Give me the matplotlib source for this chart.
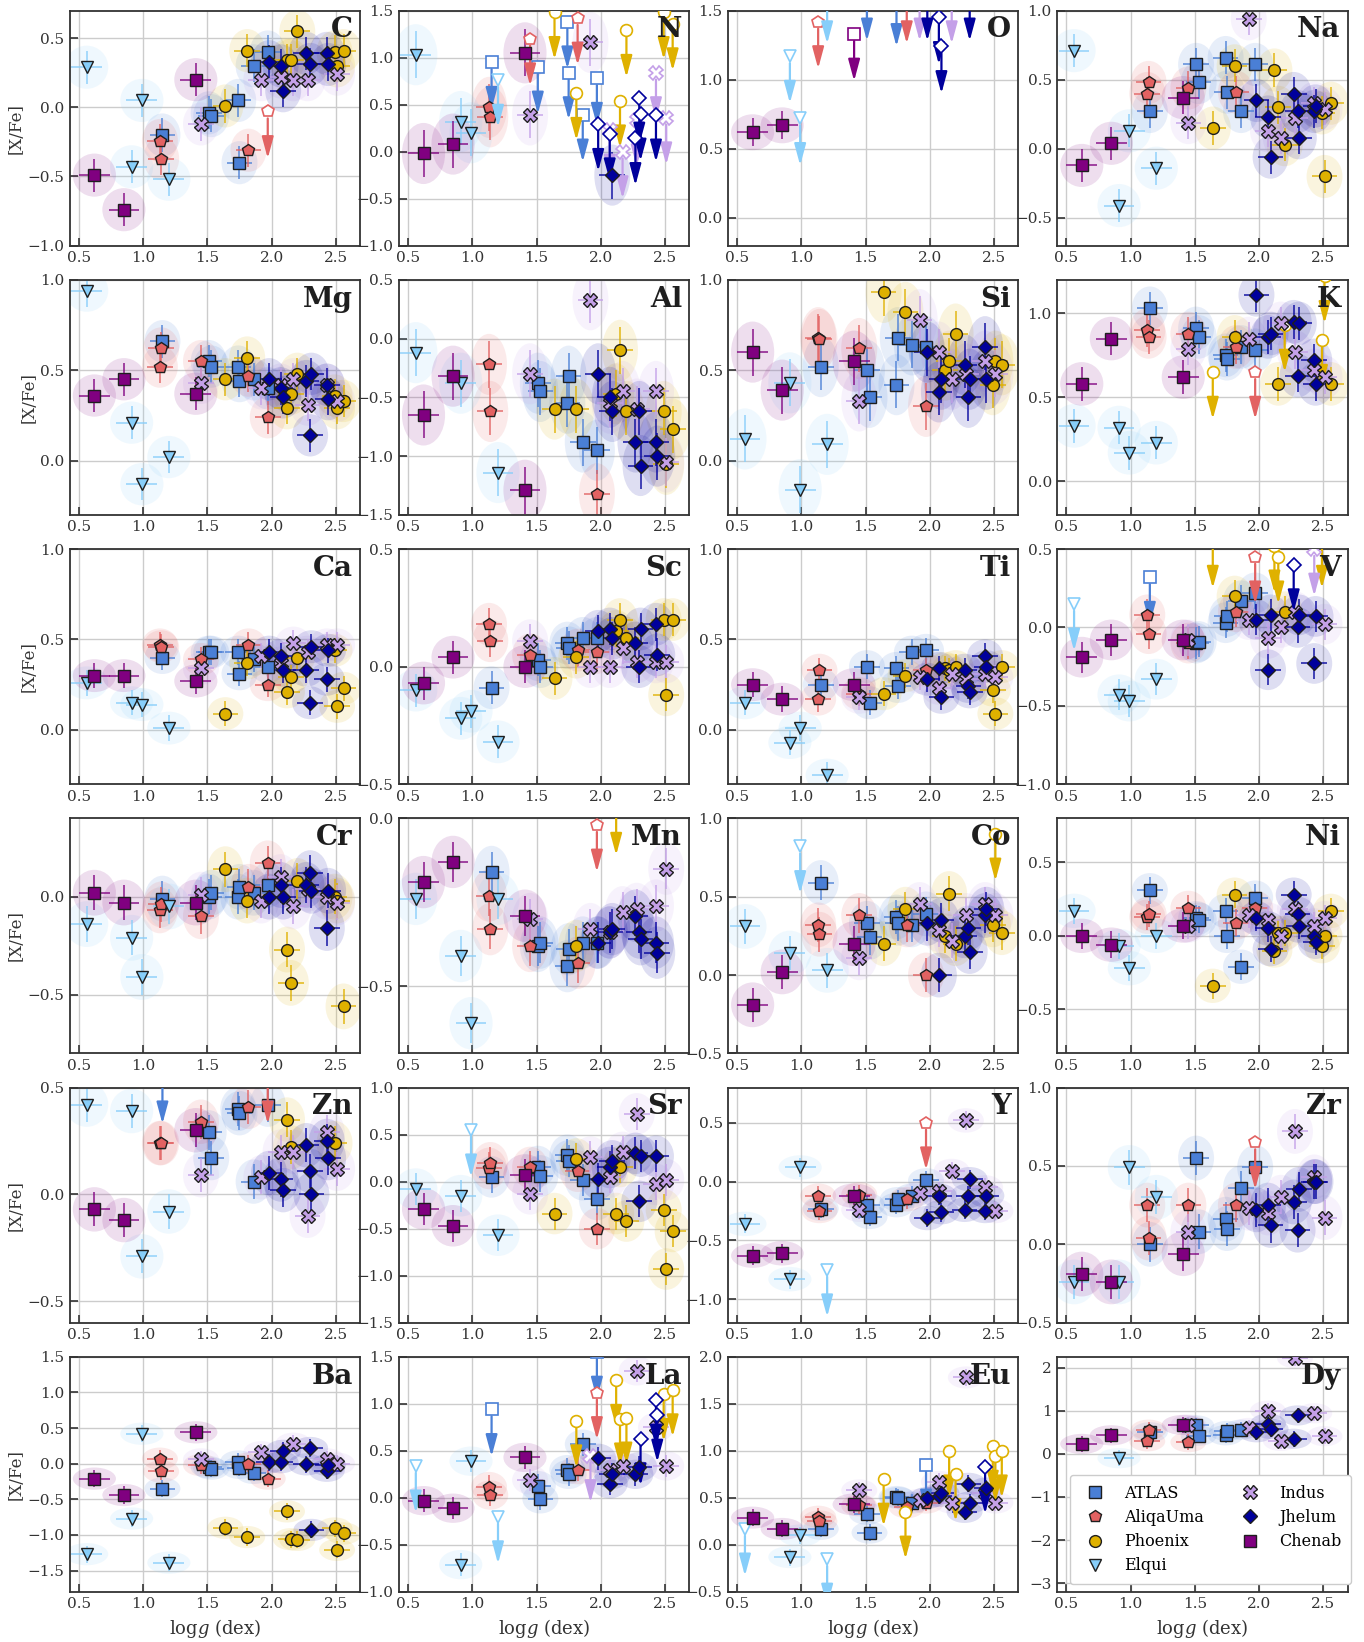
import matplotlib
matplotlib.use("Agg")
import matplotlib.pyplot as plt
from matplotlib.patches import Ellipse, FancyArrowPatch
from matplotlib.lines import Line2D
from matplotlib.ticker import MultipleLocator

# ---- stars: surface gravity of each member, per stream ----
ATLAS_LOGG = [1.15, 1.51, 1.53, 1.74, 1.75, 1.86, 1.97]
ALIQA_LOGG = [1.13, 1.14, 1.45, 1.82, 1.97]
PHOENIX_LOGG = [1.64, 1.81, 2.12, 2.15, 2.20, 2.49, 2.51, 2.56]
ELQUI_LOGG = [0.56, 0.91, 0.99, 1.20]
INDUS_LOGG = [1.45, 1.92, 2.07, 2.17, 2.28, 2.43, 2.51]
JHELUM_LOGG = [1.98, 2.07, 2.09, 2.27, 2.30, 2.31, 2.43, 2.44]
CHENAB_LOGG = [0.62, 0.85, 1.41]

STREAMS = ["ATLAS", "AliqaUma", "Phoenix", "Elqui", "Indus", "Jhelum", "Chenab"]
LOGG = dict(zip(STREAMS, [ATLAS_LOGG, ALIQA_LOGG, PHOENIX_LOGG, ELQUI_LOGG,
                          INDUS_LOGG, JHELUM_LOGG, CHENAB_LOGG]))

# ---- [X/Fe] per element (None = no measurement); *_UL = indices of upper limits ----
C = {"ATLAS": [-0.20, -0.04, -0.06, 0.05, -0.40, 0.30, 0.40],
     "AliqaUma": [-0.24, -0.37, None, -0.31, -0.03],
     "Phoenix": [0.01, 0.41, 0.34, 0.34, 0.55, 0.40, 0.30, 0.41],
     "Elqui": [0.29, -0.43, 0.05, -0.52],
     "Indus": [-0.12, 0.20, 0.22, 0.20, 0.20, None, 0.24],
     "Jhelum": [0.33, 0.30, 0.12, 0.39, 0.31, None, 0.39, 0.31],
     "Chenab": [-0.49, -0.74, 0.20]}
C_UL = {"AliqaUma": [4]}

N = {"ATLAS": [0.95, 0.90, None, 1.38, 0.84, 0.39, 0.78],
     "AliqaUma": [0.47, 0.37, 1.20, 1.42, None],
     "Phoenix": [1.48, 0.62, None, 0.54, 1.29, 1.48, None, 1.36],
     "Elqui": [1.03, 0.32, 0.20, 0.76],
     "Indus": [0.39, 1.16, 0.23, 0.00, 0.34, 0.84, 0.36],
     "Jhelum": [0.29, 0.19, -0.25, 0.14, 0.57, 0.40, 0.39, None],
     "Chenab": [-0.02, 0.08, 1.05]}
N_UL = {"ATLAS": [0, 1, 3, 4, 5, 6], "AliqaUma": [2, 3], "Phoenix": [0, 1, 3, 4, 5, 7],
        "Elqui": [3], "Indus": [2, 3, 4, 5, 6], "Jhelum": [0, 1, 3, 4, 5, 6]}

O = {"ATLAS": [None, 1.62, None, 1.58, None, None, None],
     "AliqaUma": [1.42, None, None, 1.60, None],
     "Elqui": [None, 1.17, 0.72, 1.60],
     "Indus": [None, 1.62, None, 1.60, None, None, None],
     "Jhelum": [1.62, 1.45, 1.24, None, None, 1.62, None, None],
     "Chenab": [0.62, 0.67, 1.33]}
O_UL = {"ATLAS": [1, 3], "AliqaUma": [0, 3], "Elqui": [1, 2, 3], "Indus": [1, 3],
        "Jhelum": [0, 1, 2, 5], "Chenab": [2]}

NA = {"ATLAS": [0.27, 0.61, 0.48, 0.66, 0.41, 0.27, 0.61],
      "AliqaUma": [0.40, 0.48, 0.44, 0.41, None],
      "Phoenix": [0.15, 0.60, 0.57, 0.30, 0.03, 0.26, -0.20, 0.33],
      "Elqui": [0.71, -0.41, 0.13, -0.14],
      "Indus": [0.19, 0.94, 0.13, 0.08, 0.22, 0.33, 0.29],
      "Jhelum": [0.35, 0.23, -0.06, 0.40, 0.27, 0.08, 0.27, 0.31],
      "Chenab": [-0.12, 0.04, 0.37]}

MG = {"ATLAS": [0.66, 0.55, 0.52, 0.52, 0.44, 0.45, 0.40],
      "AliqaUma": [0.52, 0.62, 0.55, 0.47, 0.24],
      "Phoenix": [0.45, 0.57, 0.29, 0.37, 0.48, 0.36, 0.29, 0.33],
      "Elqui": [0.94, 0.21, -0.13, 0.02],
      "Indus": [0.43, 0.40, 0.42, 0.45, 0.31, 0.42, 0.33],
      "Jhelum": [0.45, 0.40, 0.35, 0.44, 0.14, 0.48, 0.42, 0.34],
      "Chenab": [0.36, 0.45, 0.37]}

AL = {"ATLAS": [None, -0.38, -0.45, -0.55, -0.32, -0.88, -0.95],
      "AliqaUma": [-0.22, -0.62, None, None, -1.32],
      "Phoenix": [-0.60, -0.60, -0.47, -0.10, -0.62, -0.62, -1.07, -0.77],
      "Elqui": [-0.12, -0.38, None, -1.14],
      "Indus": [-0.30, 0.33, -0.55, -0.45, -0.60, -0.45, -1.05],
      "Jhelum": [-0.30, -0.50, -0.62, -0.88, -0.62, -1.08, -0.88, -1.00],
      "Chenab": [-0.65, -0.32, -1.29]}

SI = {"ATLAS": [0.52, 0.50, 0.35, 0.42, 0.68, 0.64, 0.63],
      "AliqaUma": [0.68, 0.67, 0.62, None, 0.30],
      "Phoenix": [0.93, 0.82, 0.50, 0.55, 0.70, 0.42, 0.55, 0.53],
      "Elqui": [0.12, 0.43, -0.16, 0.09],
      "Indus": [0.33, 0.78, 0.60, 0.45, 0.48, 0.55, 0.48],
      "Jhelum": [0.60, 0.38, 0.45, 0.53, 0.35, 0.45, 0.63, 0.45],
      "Chenab": [0.60, 0.39, 0.55]}

K = {"ATLAS": [1.03, 0.91, 0.86, 0.75, 0.73, 0.80, 0.78],
     "AliqaUma": [0.90, 0.86, 0.88, 0.80, 0.65],
     "Phoenix": [0.65, 0.86, None, 0.58, 0.93, 0.84, 1.22, 0.58],
     "Elqui": [0.33, 0.32, 0.17, 0.23],
     "Indus": [0.79, 0.85, None, 0.94, 0.77, 0.66, 0.62],
     "Jhelum": [1.11, 0.86, 0.88, 0.95, 0.63, 0.94, 0.72, 0.58],
     "Chenab": [0.58, 0.85, 0.62]}
K_UL = {"AliqaUma": [4], "Phoenix": [0, 4, 5, 6]}

CA = {"ATLAS": [0.40, 0.43, 0.43, 0.43, 0.31, 0.39, 0.35],
      "AliqaUma": [0.47, 0.46, 0.39, 0.47, 0.25],
      "Phoenix": [0.09, 0.37, 0.21, 0.29, 0.40, 0.44, 0.13, 0.23],
      "Elqui": [0.26, 0.15, 0.14, 0.01],
      "Indus": [0.34, 0.41, 0.37, 0.48, 0.43, 0.47, 0.47],
      "Jhelum": [0.43, 0.41, 0.33, 0.33, 0.15, 0.46, 0.28, 0.44],
      "Chenab": [0.30, 0.30, 0.27]}

SC = {"ATLAS": [-0.09, 0.03, 0.00, 0.10, 0.08, 0.12, 0.12],
      "AliqaUma": [0.18, 0.11, 0.05, 0.07, 0.06],
      "Phoenix": [-0.05, 0.04, 0.15, 0.20, 0.12, 0.20, -0.12, 0.20],
      "Elqui": [-0.10, -0.22, -0.19, -0.32],
      "Indus": [0.11, 0.00, 0.00, 0.08, 0.02, 0.02, 0.02],
      "Jhelum": [0.15, 0.16, 0.12, 0.10, 0.00, 0.16, 0.18, 0.05],
      "Chenab": [-0.07, 0.04, 0.00]}

TI = {"ATLAS": [0.25, 0.35, 0.15, 0.34, 0.24, 0.43, 0.44],
      "AliqaUma": [0.17, 0.33, 0.20, None, 0.33],
      "Phoenix": [0.20, 0.30, 0.34, 0.33, 0.35, 0.22, 0.09, 0.35],
      "Elqui": [0.15, -0.07, 0.01, -0.25],
      "Indus": [0.18, 0.29, 0.23, 0.31, 0.28, 0.31, 0.29],
      "Jhelum": [0.28, 0.34, 0.18, 0.33, 0.24, 0.21, 0.41, 0.35],
      "Chenab": [0.25, 0.17, 0.25]}

V = {"ATLAS": [0.32, -0.10, -0.09, 0.03, 0.07, 0.17, 0.22],
     "AliqaUma": [0.08, -0.04, -0.10, 0.10, 0.45],
     "Phoenix": [0.55, 0.20, 0.52, 0.45, 0.10, 0.55, None, None],
     "Elqui": [0.15, -0.43, -0.47, -0.33],
     "Indus": [-0.08, 0.05, -0.07, 0.00, 0.10, 0.50, 0.02],
     "Jhelum": [0.05, -0.27, 0.08, 0.40, 0.00, 0.08, -0.23, 0.07],
     "Chenab": [-0.19, -0.08, -0.08]}
V_UL = {"ATLAS": [0], "AliqaUma": [4], "Phoenix": [0, 2, 3, 5], "Elqui": [0],
        "Indus": [5], "Jhelum": [3]}

CR = {"ATLAS": [-0.01, 0.00, 0.02, 0.00, 0.05, 0.02, 0.06],
      "AliqaUma": [-0.07, -0.04, -0.10, 0.05, 0.17],
      "Phoenix": [0.14, -0.02, -0.27, -0.44, 0.08, 0.00, -0.02, -0.56],
      "Elqui": [-0.14, -0.21, -0.41, -0.05],
      "Indus": [0.01, -0.02, 0.10, -0.05, 0.04, 0.00, -0.03],
      "Jhelum": [0.00, 0.06, 0.00, 0.06, 0.12, 0.03, -0.16, 0.03],
      "Chenab": [0.02, -0.03, -0.03]}

MN = {"ATLAS": [-0.16, -0.38, -0.37, -0.44, -0.39, -0.37, -0.37],
      "AliqaUma": [-0.23, -0.33, -0.38, -0.43, -0.02],
      "Phoenix": [None, -0.38, 0.03, None, None, None, None, None],
      "Elqui": [-0.24, -0.41, -0.61, -0.24],
      "Indus": [-0.30, -0.33, -0.34, -0.28, -0.27, -0.26, -0.15],
      "Jhelum": [-0.37, -0.34, -0.33, -0.29, -0.34, -0.36, -0.37, -0.40],
      "Chenab": [-0.19, -0.13, -0.29]}
MN_UL = {"AliqaUma": [4], "Phoenix": [2]}

CO = {"ATLAS": [0.59, 0.33, 0.24, 0.37, 0.33, 0.32, 0.39],
      "AliqaUma": [0.32, 0.26, 0.38, 0.32, 0.00],
      "Phoenix": [0.20, 0.42, 0.25, 0.52, 0.20, 0.32, 0.90, 0.27],
      "Elqui": [0.31, 0.14, 0.82, 0.03],
      "Indus": [0.11, 0.45, 0.29, 0.22, 0.38, 0.45, 0.38],
      "Jhelum": [0.33, 0.00, 0.35, 0.25, 0.30, 0.15, 0.38, 0.42],
      "Chenab": [-0.19, 0.02, 0.20]}
CO_UL = {"Phoenix": [6], "Elqui": [2]}

NI = {"ATLAS": [0.31, 0.12, 0.11, 0.17, 0.00, -0.21, 0.26],
      "AliqaUma": [0.13, 0.15, 0.19, 0.09, 0.19],
      "Phoenix": [-0.34, 0.28, -0.10, 0.02, 0.02, -0.07, 0.00, 0.17],
      "Elqui": [0.17, -0.07, -0.22, 0.00],
      "Indus": [0.07, 0.14, 0.11, 0.00, 0.18, 0.07, 0.12],
      "Jhelum": [0.12, 0.05, -0.09, 0.28, 0.15, 0.07, 0.00, -0.04],
      "Chenab": [0.00, -0.06, 0.07]}

ZN = {"ATLAS": [0.55, 0.29, 0.17, 0.40, 0.38, 0.06, 0.42],
      "AliqaUma": [0.24, 0.24, 0.34, 0.41, 0.55],
      "Phoenix": [None, None, 0.35, 0.22, None, 0.24, None, None],
      "Elqui": [0.42, 0.39, -0.29, -0.08],
      "Indus": [0.09, 0.08, 0.20, 0.20, -0.10, 0.29, 0.12],
      "Jhelum": [0.10, 0.07, 0.02, 0.23, 0.11, 0.00, 0.25, 0.17],
      "Chenab": [-0.07, -0.12, 0.30]}
ZN_UL = {"ATLAS": [0], "AliqaUma": [4]}

SR = {"ATLAS": [0.05, 0.16, 0.06, 0.28, 0.22, 0.02, -0.19],
      "AliqaUma": [0.14, 0.20, 0.15, 0.11, -0.50],
      "Phoenix": [-0.34, 0.24, -0.34, 0.16, -0.42, -0.30, -0.93, -0.53],
      "Elqui": [-0.08, -0.15, 0.55, -0.57],
      "Indus": [-0.13, 0.26, 0.05, 0.31, 0.72, -0.03, 0.02],
      "Jhelum": [0.03, 0.15, 0.22, 0.30, -0.21, 0.27, 0.27, None],
      "Chenab": [-0.29, -0.47, 0.07]}
SR_UL = {"Elqui": [2]}

Y = {"ATLAS": [-0.23, -0.20, -0.30, -0.20, -0.15, -0.12, 0.01],
     "AliqaUma": [-0.12, -0.25, -0.11, -0.15, 0.50],
     "Elqui": [-0.36, -0.83, 0.12, -0.75],
     "Indus": [-0.24, -0.10, -0.08, 0.09, 0.52, -0.05, -0.25],
     "Jhelum": [-0.31, -0.12, -0.26, -0.24, -0.12, 0.02, -0.25, -0.12],
     "Chenab": [-0.63, -0.61, -0.12]}
Y_UL = {"AliqaUma": [4], "Elqui": [3]}

ZR = {"ATLAS": [0.00, 0.55, 0.08, 0.16, 0.10, 0.36, 0.49],
      "AliqaUma": [0.25, 0.04, 0.25, 0.25, 0.65],
      "Elqui": [-0.24, -0.24, 0.49, 0.30],
      "Indus": [0.08, 0.23, 0.20, 0.30, 0.72, 0.43, 0.17],
      "Jhelum": [0.22, 0.25, 0.12, 0.27, 0.09, 0.35, 0.40, 0.40],
      "Chenab": [-0.19, -0.24, -0.06]}
ZR_UL = {"AliqaUma": [4]}

BA = {"ATLAS": [-0.35, -0.05, -0.07, 0.03, -0.06, -0.13, None],
      "AliqaUma": [0.07, -0.11, -0.02, 0.00, -0.21],
      "Phoenix": [-0.90, -1.03, -0.67, -1.06, -1.07, -0.91, -1.21, -0.98],
      "Elqui": [-1.27, -0.77, 0.42, -1.39],
      "Indus": [0.06, 0.16, None, 0.28, 1.80, 0.06, 0.00],
      "Jhelum": [0.02, 0.02, 0.18, -0.01, 0.22, -0.93, -0.10, -0.02],
      "Chenab": [-0.21, -0.44, 0.44]}

LA = {"ATLAS": [0.94, 0.13, -0.01, 0.30, 0.25, 0.57, 1.55],
      "AliqaUma": [0.12, 0.03, None, 0.30, 1.12],
      "Phoenix": [None, 0.82, 1.25, 0.84, 0.85, 1.10, None, 1.15],
      "Elqui": [0.34, -0.71, 0.39, -0.20],
      "Indus": [0.19, 0.45, 0.30, 0.34, 1.35, 0.75, 0.34],
      "Jhelum": [0.42, 0.15, 0.25, 0.25, 0.33, 0.63, 1.04, 0.88],
      "Chenab": [-0.03, -0.11, 0.43]}
LA_UL = {"ATLAS": [0, 6], "AliqaUma": [4], "Phoenix": [1, 2, 3, 4, 5, 7],
         "Elqui": [0, 3], "Indus": [1], "Jhelum": [5, 6, 7]}

EU = {"ATLAS": [0.17, 0.33, 0.13, 0.51, 0.50, 0.45, 0.85],
      "AliqaUma": [0.30, 0.25, 0.42, 0.40, 0.45],
      "Phoenix": [0.70, 0.35, None, 1.00, 0.75, 1.05, 0.95, 1.00],
      "Elqui": [0.17, -0.13, 0.10, -0.15],
      "Indus": [0.58, 0.48, 0.67, 0.45, 1.78, 0.55, 0.45],
      "Jhelum": [0.50, 0.52, 0.55, 0.35, 0.65, 0.45, 0.83, 0.60],
      "Chenab": [0.29, 0.17, 0.43]}
EU_UL = {"ATLAS": [6], "Phoenix": [0, 1, 3, 4, 5, 6, 7], "Elqui": [0, 3], "Jhelum": [6]}

DY = {"ATLAS": [0.50, 0.66, 0.42, 0.43, 0.53, 0.56, None],
      "AliqaUma": [0.29, 0.56, 0.27, None, None],
      "Elqui": [None, -0.10, None, None],
      "Indus": [0.68, 0.60, 1.00, 0.30, 2.22, 0.94, 0.41],
      "Jhelum": [0.50, 0.70, 0.58, 0.35, 0.89, None, None, None],
      "Chenab": [0.23, 0.43, 0.67]}

# element, values, upper limits, y-limits, tick step, typical y error
PANELS = [
    ("C", C, C_UL, (-1.0, 0.7), 0.5, 0.12),
    ("N", N, N_UL, (-1.0, 1.5), 0.5, 0.25),
    ("O", O, O_UL, (-0.2, 1.5), 0.5, 0.10),
    ("Na", NA, {}, (-0.7, 1.0), 0.5, 0.12),
    ("Mg", MG, {}, (-0.3, 1.0), 0.5, 0.09),
    ("Al", AL, {}, (-1.5, 0.5), 0.5, 0.20),
    ("Si", SI, {}, (-0.3, 1.0), 0.5, 0.13),
    ("K", K, K_UL, (-0.2, 1.2), 0.5, 0.10),
    ("Ca", CA, {}, (-0.3, 1.0), 0.5, 0.07),
    ("Sc", SC, {}, (-0.5, 0.5), 0.5, 0.07),
    ("Ti", TI, {}, (-0.3, 1.0), 0.5, 0.07),
    ("V", V, V_UL, (-1.0, 0.5), 0.5, 0.10),
    ("Cr", CR, {}, (-0.8, 0.4), 0.5, 0.09),
    ("Mn", MN, MN_UL, (-0.7, 0.0), 0.5, 0.06),
    ("Co", CO, CO_UL, (-0.5, 1.0), 0.5, 0.11),
    ("Ni", NI, {}, (-0.8, 0.8), 0.5, 0.09),
    ("Zn", ZN, ZN_UL, (-0.6, 0.5), 0.5, 0.08),
    ("Sr", SR, SR_UL, (-1.5, 1.0), 0.5, 0.17),
    ("Y", Y, Y_UL, (-1.2, 0.8), 0.5, 0.08),
    ("Zr", ZR, ZR_UL, (-0.5, 1.0), 0.5, 0.11),
    ("Ba", BA, {}, (-1.8, 1.5), 0.5, 0.12),
    ("La", LA, LA_UL, (-1.0, 1.5), 0.5, 0.12),
    ("Eu", EU, EU_UL, (-0.5, 2.0), 0.5, 0.09),
    ("Dy", DY, {}, (-3.2, 2.25), 1.0, 0.18),
]

STYLE = {
    "ATLAS": dict(c="#4a7fd6", m="s", ms=8, xerr=0.10),
    "AliqaUma": dict(c="#e26262", m="p", ms=9, xerr=0.10),
    "Phoenix": dict(c="#dfb100", m="o", ms=8.5, xerr=0.10),
    "Elqui": dict(c="#87cefa", m="v", ms=9, xerr=0.12),
    "Indus": dict(c="#c4a0e8", m="X", ms=9.5, xerr=0.10),
    "Jhelum": dict(c="#00009c", m="D", ms=7.5, xerr=0.10),
    "Chenab": dict(c="#800080", m="s", ms=8, xerr=0.12),
}

plt.rcParams.update({
    "font.family": "DejaVu Serif",
    "mathtext.fontset": "dejavuserif",
    "font.size": 11,
})


def draw_panel(ax, name, vals, uls, ylim, step, yerr):
    span = ylim[1] - ylim[0]
    for k, s in enumerate(STREAMS):
        ys = vals.get(s)
        if not ys:
            continue
        st = STYLE[s]
        col = st["c"]
        z = 3 + 0.1 * k
        for i, (x, y) in enumerate(zip(LOGG[s], ys)):
            if y is None:
                continue
            if i in uls.get(s, []):
                arr = FancyArrowPatch((x, y), (x, y - 0.2 * span),
                                      arrowstyle="-|>,head_length=1.3,head_width=0.35",
                                      mutation_scale=10, color=col, lw=1.6,
                                      shrinkA=5, shrinkB=0, zorder=z)
                ax.add_patch(arr)
                ax.plot(x, y, st["m"], ms=st["ms"], mfc="white", mec=col,
                        mew=1.2, zorder=z + 0.05)
            else:
                ax.add_patch(Ellipse((x, y), 2.8 * st["xerr"], 2.6 * yerr,
                                     facecolor=col, edgecolor="none", alpha=0.13,
                                     zorder=1))
                ax.errorbar(x, y, xerr=st["xerr"], yerr=yerr, fmt="none",
                            ecolor=col, elinewidth=1.1, alpha=0.9, zorder=2)
                ax.plot(x, y, st["m"], ms=st["ms"], mfc=col, mec="#1e1e1e",
                        mew=1.0, zorder=z + 0.05)

    ax.set_xlim(0.43, 2.69)
    ax.set_ylim(*ylim)
    ax.xaxis.set_major_locator(MultipleLocator(0.5))
    ax.yaxis.set_major_locator(MultipleLocator(step))
    ax.set_axisbelow(True)
    ax.grid(True, color="#cccccc", lw=1.0)
    for sp in ax.spines.values():
        sp.set_color("#333333")
        sp.set_linewidth(1.3)
    ax.tick_params(direction="in", length=6, width=1.2, color="#333333",
                   labelsize=11, labelcolor="#333333", pad=4)
    ax.text(0.975, 0.975, name, transform=ax.transAxes, ha="right", va="top",
            fontsize=20, fontweight="bold", color="#1e1e1e", zorder=20)


fig, axes = plt.subplots(6, 4, figsize=(13.64, 16.42), dpi=100)
fig.subplots_adjust(left=0.0513, right=0.988, top=0.9936, bottom=0.0305,
                    wspace=0.134, hspace=0.145)

for ax, (name, vals, uls, ylim, step, yerr) in zip(axes.flat, PANELS):
    draw_panel(ax, name, vals, uls, ylim, step, yerr)

for ax in axes[:, 0]:
    ax.set_ylabel("[X/Fe]", fontsize=12, color="#333333", labelpad=2)
for ax in axes[-1, :]:
    ax.set_xlabel(r"log$g$ (dex)", fontsize=13, color="#333333")

handles = [Line2D([], [], ls="none", marker=STYLE[s]["m"], ms=STYLE[s]["ms"],
                  mfc=STYLE[s]["c"], mec="#1e1e1e", mew=1.0) for s in STREAMS]
axes[-1, -1].legend(handles, STREAMS, loc="lower left", bbox_to_anchor=(0.015, 0.0),
                    ncol=2, fontsize=11.5, frameon=True, edgecolor="#cccccc",
                    framealpha=1.0, columnspacing=1.9, handletextpad=0.8,
                    labelspacing=0.45, borderpad=0.6)

fig.savefig("out.png", dpi=100)
